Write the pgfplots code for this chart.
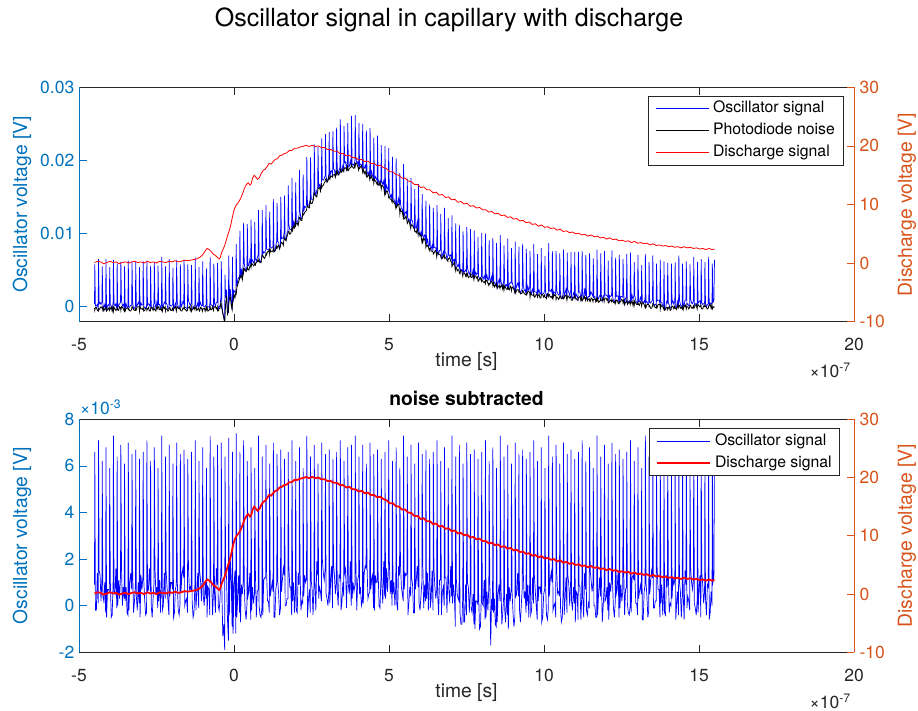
\documentclass[border=0pt]{standalone}
\usepackage{pgfplots}
\pgfplotsset{compat=1.18}
\usepackage{pgfplotstable}
\usepackage{fontspec}
\setmainfont{TeX Gyre Heros}
\definecolor{lblue}{rgb}{0,0.447,0.741}
\definecolor{rorange}{rgb}{0.85,0.325,0.098}
\definecolor{axgray}{rgb}{0.15,0.15,0.15}
\newcommand{\tickfont}{\fontsize{17.5pt}{21pt}\selectfont}
\newcommand{\labfont}{\fontsize{19.3pt}{23pt}\selectfont}
\newcommand{\legfont}{\fontsize{15.8pt}{19pt}\selectfont}

% t in units of 1e-7 s; O = oscillator (top), S = noise subtracted, N = photodiode noise; all in 1e-3 V
\pgfplotstableread{
t O S N
-4.50 0.4 0.9 -0.2
-4.49 5.8 6.6 -0.5
-4.47 0.1 -0.2 -0.1
-4.44 0.1 -0.2 -0.1
-4.41 0.3 1.4 -0.5
-4.38 -0.3 0.1 -0.6
-4.37 6.5 7.1 -0.3
-4.35 0.4 1.5 -0.4
-4.32 0.6 1.3 -0.2
-4.29 0.3 0.2 0.0
-4.26 0.6 1.2 -0.1
-4.25 5.5 6.2 -0.4
-4.23 0.4 0.4 0.0
-4.20 -0.3 0.2 -0.6
-4.17 0.3 1.0 -0.3
-4.14 -0.2 -0.3 -0.3
-4.13 6.5 6.8 0.0
-4.11 -0.6 -0.5 -0.6
-4.08 0.1 0.7 -0.4
-4.05 0.3 0.7 -0.2
-4.02 0.0 0.6 -0.5
-4.01 5.4 5.9 -0.2
-3.99 0.4 1.1 -0.3
-3.96 0.0 -0.5 0.0
-3.93 -0.5 -0.4 -0.6
-3.90 0.6 1.0 0.0
-3.89 6.4 7.3 -0.6
-3.87 0.4 0.6 -0.1
-3.84 0.1 0.5 -0.3
-3.81 0.4 1.6 -0.5
-3.78 -0.2 -0.1 -0.4
-3.77 6.0 6.4 -0.1
-3.75 -0.2 0.0 -0.4
-3.72 0.2 1.1 -0.5
-3.69 0.4 0.3 0.0
-3.66 0.6 1.3 -0.2
-3.65 6.1 6.9 -0.5
-3.63 0.9 1.7 0.0
-3.60 0.1 0.0 -0.1
-3.57 0.3 0.8 -0.3
-3.54 -0.2 0.3 -0.6
-3.53 5.5 6.1 -0.3
-3.51 -0.3 0.2 -0.6
-3.48 0.4 0.8 -0.2
-3.45 -0.1 -0.3 -0.2
-3.42 0.0 -0.4 -0.1
-3.41 6.3 7.0 -0.4
-3.39 -0.1 -0.2 -0.3
-3.36 0.0 1.0 -0.6
-3.33 0.2 1.4 -0.6
-3.30 0.2 0.7 -0.3
-3.29 6.2 6.5 0.0
-3.27 0.7 1.5 -0.1
-3.24 -0.3 -0.3 -0.4
-3.21 -0.2 0.2 -0.5
-3.18 0.1 0.9 -0.5
-3.17 6.2 6.7 -0.2
-3.15 0.0 0.4 -0.4
-3.12 0.2 -0.2 0.0
-3.09 0.6 1.0 0.0
-3.06 0.3 0.1 0.0
-3.05 5.4 6.3 -0.6
-3.03 0.0 -0.5 0.0
-3.00 0.5 1.3 -0.3
-2.97 0.2 0.7 -0.3
-2.94 0.3 1.2 -0.4
-2.93 6.2 6.6 -0.1
-2.91 0.1 1.1 -0.6
-2.88 -0.2 0.2 -0.5
-2.85 -0.1 -0.4 -0.2
-2.82 -0.1 -0.3 -0.2
-2.81 6.3 7.1 -0.5
-2.79 0.2 0.6 -0.3
-2.76 0.4 0.7 -0.1
-2.73 0.3 1.6 -0.6
-2.70 -0.1 0.6 -0.6
-2.69 5.6 6.2 -0.3
-2.67 0.1 0.0 -0.1
-2.64 -0.2 -0.5 -0.2
-2.61 -0.1 0.3 -0.5
-2.58 0.5 1.0 -0.1
-2.57 6.1 6.8 -0.4
-2.55 0.5 1.7 -0.4
-2.52 -0.2 0.5 -0.6
-2.49 0.6 0.8 0.0
-2.46 -0.1 -0.1 -0.3
-2.45 5.6 5.9 0.0
-2.43 0.3 0.2 0.0
-2.40 0.3 1.1 -0.4
-2.37 -0.2 -0.3 -0.3
-2.34 0.3 1.3 -0.5
-2.33 6.8 7.3 -0.2
-2.31 -0.4 -0.2 -0.6
-2.28 0.2 0.0 0.0
-2.25 0.6 1.4 -0.2
-2.22 0.4 0.3 0.0
-2.21 5.5 6.4 -0.6
-2.19 0.5 1.5 -0.3
-2.16 0.3 0.8 -0.3
-2.13 -0.3 0.2 -0.6
-2.10 -0.3 -0.4 -0.4
-2.09 6.5 6.9 -0.1
-2.07 0.3 0.4 -0.1
-2.04 0.1 1.0 -0.5
-2.01 0.1 1.0 -0.5
-1.98 0.3 0.7 -0.2
-1.97 5.3 6.1 -0.5
-1.95 -0.4 -0.5 -0.4
-1.92 0.0 -0.3 -0.1
-1.89 0.5 0.7 0.0
-1.86 0.0 0.9 -0.6
-1.85 6.4 7.0 -0.3
-1.83 0.7 1.1 0.0
-1.80 0.0 -0.2 -0.2
-1.77 -0.2 -0.4 -0.3
-1.74 0.2 0.1 -0.1
-1.73 5.8 6.5 -0.4
-1.71 -0.1 0.6 -0.6
-1.68 0.2 1.3 -0.6
-1.65 0.7 1.6 -0.2
-1.62 0.4 1.2 -0.3
-1.61 6.4 6.7 0.0
-1.59 -0.1 0.0 -0.3
-1.56 -0.1 0.2 -0.4
-1.53 -0.2 0.3 -0.6
-1.50 -0.4 -0.3 -0.5
-1.49 5.8 6.3 -0.2
-1.47 0.8 1.7 -0.1
-1.44 0.5 0.7 0.0
-1.41 0.1 0.8 -0.5
-1.38 0.5 0.6 0.0
-1.37 5.7 6.6 -0.6
-1.35 -0.1 0.2 -0.4
-1.32 -0.3 -0.5 -0.3
-1.29 0.1 -0.3 0.0
-1.26 0.2 1.0 -0.4
-1.25 6.7 7.1 -0.1
-1.23 0.2 -0.2 0.0
-1.20 -0.1 0.5 -0.5
-1.17 0.5 1.4 -0.3
-1.14 0.0 -0.1 -0.2
-1.13 5.4 6.2 -0.5
-1.11 0.2 1.5 -0.6
-1.08 0.6 1.1 -0.1
-1.05 0.1 0.2 -0.2
-1.02 0.2 1.3 -0.6
-1.01 6.2 6.8 -0.3
-0.99 0.1 0.4 -0.3
-0.96 0.0 0.0 -0.2
-0.93 0.0 1.0 -0.6
-0.90 0.3 0.3 -0.1
-0.89 5.2 5.9 -0.4
-0.87 -0.1 -0.5 -0.1
-0.84 0.0 0.8 -0.6
-0.81 0.0 0.7 -0.5
-0.78 -0.2 -0.4 -0.3
-0.77 6.8 7.3 0.0
-0.75 0.3 1.1 -0.4
-0.72 0.2 1.0 -0.4
-0.69 0.1 -0.4 0.0
-0.66 0.0 0.7 -0.5
-0.65 5.9 6.4 -0.2
-0.63 0.5 0.6 0.0
-0.60 0.1 -0.3 0.0
-0.57 0.6 1.6 -0.3
-0.54 0.6 0.9 0.0
-0.53 6.0 6.9 -0.6
-0.51 -0.4 0.0 -0.6
-0.48 -0.1 -0.2 -0.3
-0.45 0.2 0.3 -0.2
-0.42 1.4 1.8 0.6
-0.41 6.2 7.0 0.2
-0.39 0.2 0.5 -0.3
-0.36 -0.9 -1.3 -0.9
-0.33 -1.4 -0.8 -1.5
-0.30 -2.2 -1.9 -2.2
-0.29 4.4 6.4 -1.2
-0.27 1.2 1.6 0.4
-0.24 2.3 1.2 1.5
-0.21 -0.8 -0.6 -1.0
-0.18 -0.8 -1.5 -0.6
-0.17 7.0 7.2 0.3
-0.15 1.0 -0.4 1.0
-0.12 2.4 2.0 1.4
-0.09 0.8 1.0 0.2
-0.06 -0.4 -0.9 -0.4
-0.05 6.8 6.6 0.5
-0.03 0.6 -1.2 0.9
0.00 2.2 0.8 1.6
0.03 2.0 1.5 1.2
0.06 2.0 -1.2 2.0
0.07 8.6 7.4 1.6
0.09 2.8 -0.5 2.6
0.12 3.5 0.3 3.0
0.15 4.0 1.3 3.4
0.18 4.0 -0.3 3.8
0.19 10.4 6.6 4.1
0.21 4.0 -0.7 4.0
0.24 5.0 0.9 4.3
0.27 4.2 0.5 3.7
0.30 6.1 1.1 5.3
0.31 11.5 7.1 4.7
0.33 5.9 0.9 5.2
0.36 5.2 -0.2 5.0
0.39 4.9 -0.6 4.8
0.42 5.5 0.1 5.1
0.43 11.3 6.2 5.4
0.45 5.6 0.4 5.1
0.48 5.6 0.6 5.0
0.51 6.4 1.4 5.5
0.54 5.8 -0.6 5.7
0.55 11.9 6.8 5.4
0.57 6.1 -0.2 5.9
0.60 6.4 0.8 5.8
0.63 6.0 0.1 5.6
0.66 6.2 0.5 5.7
0.67 11.6 5.9 6.0
0.69 6.6 1.5 5.7
0.72 6.2 -0.5 6.1
0.75 6.7 0.6 6.1
0.78 7.1 0.7 6.5
0.79 13.2 7.3 6.2
0.81 6.6 0.0 6.3
0.84 6.2 -0.4 6.0
0.87 6.1 -0.5 6.0
0.90 7.1 -0.1 6.8
0.91 13.2 6.4 7.1
0.93 7.2 -0.4 7.0
0.96 7.5 1.1 6.7
0.99 7.4 1.2 6.6
1.02 7.7 1.2 7.0
1.03 13.9 6.9 7.3
1.05 7.9 1.5 7.1
1.08 7.8 0.2 7.5
1.11 7.8 0.2 7.5
1.14 7.9 -0.3 7.8
1.15 13.0 6.1 7.2
1.17 8.2 0.4 7.8
1.20 8.0 0.7 7.5
1.23 8.1 1.0 7.5
1.26 8.2 0.6 7.7
1.27 14.7 7.0 8.0
1.29 7.5 -0.5 7.5
1.32 7.6 -0.5 7.6
1.35 8.4 0.7 7.9
1.38 8.9 1.0 8.3
1.39 14.2 6.5 8.0
1.41 8.9 1.1 8.2
1.44 8.8 0.5 8.4
1.47 8.0 -0.4 7.9
1.50 8.5 -0.1 8.3
1.51 15.0 6.7 8.6
1.53 9.3 0.6 8.8
1.56 9.4 1.1 8.7
1.59 9.3 1.6 8.4
1.62 10.3 1.3 9.5
1.63 15.2 6.3 9.2
1.65 9.4 0.0 9.2
1.68 9.2 0.0 9.0
1.71 10.0 0.3 9.6
1.74 10.4 0.3 10.0
1.75 16.6 6.6 10.3
1.77 11.2 1.7 10.3
1.80 10.5 0.8 9.9
1.83 10.6 0.8 10.0
1.86 10.6 -0.4 10.5
1.87 17.6 7.1 10.8
1.89 10.7 0.2 10.4
1.92 11.6 1.0 11.0
1.95 10.9 -0.3 10.8
1.98 12.2 0.7 11.7
1.99 17.0 6.2 11.1
2.01 11.6 -0.2 11.4
2.04 11.5 -0.3 11.4
2.07 11.9 1.4 11.1
2.10 12.5 0.9 11.9
2.11 18.7 6.8 12.2
2.13 13.0 1.5 12.2
2.16 12.0 -0.2 11.8
2.19 12.1 0.2 11.8
2.22 13.1 0.1 12.8
2.23 18.1 5.9 12.5
2.25 13.0 0.4 12.6
2.28 13.7 1.3 12.9
2.31 13.6 1.0 13.0
2.34 13.9 1.2 13.2
2.35 20.5 7.3 13.5
2.37 13.8 -0.5 13.8
2.40 13.9 0.2 13.6
2.43 14.0 0.7 13.5
2.46 14.7 -0.3 14.6
2.47 20.4 6.4 14.3
2.49 14.8 1.1 14.1
2.52 14.6 0.7 14.1
2.55 14.6 -0.4 14.5
2.58 15.8 0.9 15.3
2.59 22.2 6.9 15.6
2.61 15.8 0.9 15.3
2.64 15.2 -0.2 15.2
2.67 15.9 1.9 15.0
2.70 16.4 1.3 15.8
2.71 21.9 6.1 16.1
2.73 16.4 0.3 16.2
2.76 16.7 0.8 16.3
2.79 16.2 0.6 15.8
2.82 17.1 0.2 16.9
2.83 23.0 7.0 16.3
2.85 17.4 2.0 16.5
2.88 17.3 1.4 16.6
2.91 17.5 1.1 16.9
2.94 17.9 1.6 17.1
2.95 23.6 6.5 17.4
2.97 17.8 0.5 17.5
3.00 17.2 0.3 17.0
3.03 17.3 0.0 17.2
3.06 18.2 0.6 17.8
3.07 23.9 6.7 17.5
3.09 17.6 0.1 17.4
3.12 18.5 1.1 17.9
3.15 18.6 1.7 17.8
3.18 17.8 -0.1 17.7
3.19 24.0 6.3 18.0
3.21 18.8 1.8 18.0
3.24 18.7 1.3 18.1
3.27 18.0 0.5 17.7
3.30 19.0 1.0 18.5
3.31 24.5 6.6 18.2
3.33 18.9 0.7 18.5
3.36 18.1 0.0 18.0
3.39 18.7 1.3 18.1
3.42 19.1 1.2 18.5
3.43 25.6 7.1 18.8
3.45 18.4 -0.2 18.4
3.48 18.6 0.1 18.4
3.51 19.3 1.0 18.8
3.54 18.8 0.4 18.5
3.55 24.7 6.2 18.8
3.57 19.7 1.4 19.0
3.60 19.8 1.6 19.0
3.63 18.8 -0.1 18.7
3.66 19.9 1.5 19.2
3.67 25.1 6.8 18.6
3.69 19.1 0.9 18.6
3.72 19.2 0.5 18.9
3.75 19.9 1.9 19.0
3.78 19.2 0.0 19.1
3.79 26.1 6.9 19.4
3.81 19.4 0.3 19.2
3.84 19.5 1.0 19.0
3.87 19.3 0.6 18.9
3.90 20.0 0.9 19.5
3.91 26.2 7.3 19.2
3.93 20.5 2.0 19.6
3.96 19.6 -0.2 19.6
3.99 19.8 1.1 19.2
4.02 19.3 1.3 18.7
4.03 25.1 6.4 19.0
4.05 19.2 0.5 18.9
4.08 19.5 0.8 19.1
4.11 19.4 0.0 19.3
4.14 18.9 0.2 18.7
4.15 25.0 6.9 18.4
4.17 19.0 0.1 18.8
4.20 18.9 1.4 18.2
4.23 19.3 1.7 18.5
4.26 18.8 1.6 18.0
4.27 24.1 6.1 18.3
4.29 18.5 1.8 17.7
4.32 18.1 0.3 17.9
4.35 18.4 0.5 18.1
4.38 17.8 0.6 17.4
4.39 24.4 7.0 17.7
4.41 18.0 0.7 17.6
4.44 18.5 1.1 17.9
4.47 17.9 1.3 17.3
4.50 17.6 -0.1 17.5
4.51 23.1 6.5 16.9
4.53 17.4 -0.2 17.4
4.56 17.8 1.3 17.2
4.59 17.5 1.0 17.0
4.62 17.2 1.0 16.7
4.63 23.4 6.7 17.0
4.65 17.4 1.4 16.7
4.68 16.7 0.0 16.6
4.71 17.2 -0.1 17.1
4.74 17.0 1.2 16.4
4.75 22.1 6.3 16.1
4.77 17.1 0.9 16.6
4.80 16.7 0.1 16.5
4.83 17.2 1.9 16.3
4.86 15.7 0.4 15.4
4.87 22.0 6.6 15.7
4.89 15.6 0.3 15.4
4.92 16.6 1.6 15.8
4.95 16.2 0.6 15.8
4.98 15.9 1.5 15.2
4.99 21.7 7.1 14.9
5.01 15.9 2.0 15.0
5.04 15.0 0.5 14.7
5.07 15.3 1.1 14.7
5.10 14.4 0.0 14.3
5.11 20.5 6.2 14.6
5.13 14.8 0.5 14.5
5.16 14.7 1.0 14.2
5.19 14.2 0.0 14.1
5.22 14.0 0.9 13.5
5.23 20.3 6.8 13.8
5.25 13.8 0.1 13.6
5.28 14.0 -0.2 14.0
5.31 14.8 1.7 14.0
5.34 13.9 1.3 13.3
5.35 18.3 5.9 12.7
5.37 14.1 1.8 13.3
5.40 13.4 0.8 13.0
5.43 13.3 0.5 13.0
5.46 12.4 0.2 12.2
5.47 19.5 7.3 12.5
5.49 12.4 0.7 12.0
5.52 12.8 1.4 12.1
5.55 13.0 1.3 12.4
5.58 12.5 1.4 11.7
5.59 17.5 6.4 11.4
5.61 11.6 -0.4 11.6
5.64 12.0 0.1 11.8
5.67 11.8 0.8 11.3
5.70 11.1 0.4 10.7
5.71 17.6 6.9 11.0
5.73 11.9 1.2 11.2
5.76 11.7 0.9 11.1
5.79 10.9 -0.3 10.8
5.82 10.7 -0.3 10.6
5.83 16.1 6.1 10.3
5.85 10.8 0.7 10.3
5.88 10.7 1.1 10.1
5.91 11.6 1.7 10.7
5.94 10.3 0.8 9.8
5.95 16.8 7.0 10.1
5.97 10.3 0.1 10.1
6.00 9.8 -0.2 9.7
6.03 10.2 0.4 9.8
6.06 9.5 1.0 8.9
6.07 15.4 6.5 9.2
6.09 9.7 1.8 8.8
6.12 9.6 -0.1 9.4
6.15 9.8 0.9 9.2
6.18 9.0 0.2 8.7
6.19 14.5 6.7 8.1
6.21 8.7 0.3 8.4
6.24 9.2 1.4 8.4
6.27 8.2 -0.2 8.1
6.30 8.4 1.3 7.7
6.31 14.0 6.3 8.0
6.33 8.2 -0.1 8.0
6.36 7.9 0.3 7.6
6.39 8.4 1.5 7.6
6.42 7.6 -0.2 7.5
6.43 13.5 6.6 7.2
6.45 8.1 1.6 7.3
6.48 8.1 0.8 7.6
6.51 8.0 0.3 7.7
6.54 7.3 0.7 6.8
6.55 13.9 7.1 7.1
6.57 7.8 0.5 7.4
6.60 7.2 -0.4 7.2
6.63 7.7 1.1 7.1
6.66 7.7 1.1 7.1
6.67 12.7 6.2 6.8
6.69 6.6 -0.4 6.6
6.72 7.0 0.6 6.6
6.75 7.5 0.8 7.0
6.78 6.9 0.0 6.7
6.79 13.5 6.8 7.0
6.81 7.4 1.2 6.7
6.84 7.3 1.2 6.6
6.87 6.5 -0.3 6.4
6.90 7.0 1.4 6.2
6.91 12.1 5.9 6.5
6.93 7.1 0.7 6.6
6.96 6.9 0.1 6.7
6.99 7.1 1.7 6.2
7.02 6.5 0.4 6.1
7.03 12.5 7.3 5.5
7.05 5.9 0.1 5.7
7.08 6.4 0.9 5.8
7.11 6.5 0.4 6.1
7.14 5.1 -0.9 5.0
7.15 11.4 6.4 5.3
7.17 6.3 1.2 5.4
7.20 5.5 0.5 4.9
7.23 5.7 0.3 5.1
7.26 5.4 0.2 4.9
7.27 11.2 6.9 4.6
7.29 4.8 -0.3 4.5
7.32 5.1 -0.8 5.0
7.35 5.0 -0.8 4.9
7.38 4.8 0.4 4.2
7.39 10.3 6.1 4.5
7.41 4.7 -0.7 4.5
7.44 4.8 -0.7 4.6
7.47 5.0 0.9 4.2
7.50 4.8 -0.4 4.5
7.51 10.9 7.0 4.2
7.53 5.3 1.0 4.5
7.56 4.8 0.8 4.0
7.59 4.4 -0.3 4.1
7.62 4.8 0.7 4.1
7.63 10.6 6.5 4.4
7.65 4.4 -0.1 4.0
7.68 4.3 -0.3 4.0
7.71 5.0 0.5 4.4
7.74 3.8 -0.8 3.7
7.75 10.4 6.7 4.0
7.77 4.2 -1.0 4.2
7.80 4.7 0.2 4.2
7.83 4.4 0.2 3.9
7.86 4.6 0.1 4.1
7.87 9.5 6.3 3.5
7.89 4.2 0.6 3.5
7.92 3.8 -1.0 3.8
7.95 4.0 -0.9 3.9
7.98 4.1 0.5 3.5
7.99 10.1 6.6 3.8
8.01 4.1 0.1 3.6
8.04 3.8 0.0 3.4
8.07 4.2 1.1 3.3
8.10 3.7 -0.6 3.5
8.11 10.0 7.1 3.2
8.13 3.8 -0.5 3.6
8.16 4.3 0.6 3.6
8.19 3.6 -0.2 3.2
8.22 3.7 0.8 2.9
8.23 9.1 6.2 3.2
8.25 4.0 1.2 3.1
8.28 3.3 -1.7 3.3
8.31 4.1 0.3 3.5
8.34 3.6 -0.2 3.2
8.35 9.4 6.8 2.9
8.37 3.6 -0.3 3.3
8.40 3.3 0.3 2.7
8.43 3.1 -0.8 3.0
8.46 2.9 -0.9 2.8
8.47 8.7 5.9 3.1
8.49 2.7 -0.7 2.5
8.52 3.3 0.5 2.7
8.55 3.7 0.9 2.9
8.58 3.0 0.2 2.5
8.59 9.8 7.3 2.8
8.61 3.5 1.0 2.7
8.64 3.1 -0.8 3.0
8.67 2.7 -0.3 2.4
8.70 3.5 0.4 2.9
8.71 8.4 6.4 2.3
8.73 3.2 -0.1 2.8
8.76 2.8 -0.7 2.6
8.79 3.0 0.5 2.4
8.82 2.7 -0.4 2.4
8.83 9.3 6.9 2.7
8.85 2.4 -1.0 2.4
8.88 3.1 0.8 2.3
8.91 3.3 0.2 2.8
8.94 3.2 0.7 2.5
8.95 8.0 6.1 2.2
8.97 3.4 0.6 2.7
9.00 2.9 -0.3 2.6
9.03 2.5 -0.9 2.4
9.06 2.0 -0.5 1.9
9.07 8.9 7.0 2.2
9.09 2.4 0.4 1.9
9.12 2.8 0.5 2.3
9.15 3.2 1.4 2.3
9.18 2.8 0.4 2.3
9.19 8.2 6.5 2.0
9.21 2.3 -0.2 2.1
9.24 1.8 -0.7 1.8
9.27 2.2 0.1 1.8
9.30 2.5 0.8 1.9
9.31 8.6 6.7 2.2
9.33 3.0 1.5 2.1
9.36 2.2 0.3 1.8
9.39 2.3 0.6 1.7
9.42 1.8 -0.3 1.6
9.43 7.9 6.3 1.9
9.45 2.0 0.0 1.7
9.48 2.8 0.9 2.1
9.51 2.2 -0.5 2.1
9.54 2.7 1.1 1.9
9.55 7.6 6.6 1.3
9.57 2.1 -0.4 1.9
9.60 1.8 -0.2 1.6
9.63 2.4 1.2 1.6
9.66 1.9 0.1 1.5
9.67 8.6 7.1 1.8
9.69 2.1 1.3 1.3
9.72 2.0 0.6 1.4
9.75 2.0 0.0 1.7
9.78 1.7 -0.6 1.6
9.79 7.2 6.2 1.3
9.81 1.9 0.2 1.5
9.84 2.3 0.8 1.7
9.87 1.8 0.8 1.2
9.90 1.7 0.5 1.2
9.91 8.0 6.8 1.5
9.93 1.7 -0.7 1.7
9.96 1.7 -0.5 1.6
9.99 1.8 0.5 1.3
10.02 2.2 0.7 1.6
10.03 6.9 5.9 1.3
10.05 2.0 0.9 1.3
10.08 1.3 -0.4 1.1
10.11 1.8 -0.6 1.7
10.14 1.7 -0.1 1.4
10.15 8.7 7.3 1.7
10.17 2.2 0.4 1.7
10.20 2.1 1.1 1.3
10.23 2.3 1.4 1.4
10.26 1.9 1.0 1.2
10.27 7.6 6.4 1.5
10.29 1.3 -0.2 1.1
10.32 2.0 0.0 1.7
10.35 1.9 0.1 1.5
10.38 1.7 -0.5 1.6
10.39 7.6 6.9 1.0
10.41 2.2 1.5 1.3
10.44 1.8 0.5 1.3
10.47 1.6 0.6 1.0
10.50 1.7 0.4 1.2
10.51 7.3 6.1 1.5
10.53 1.8 0.0 1.5
10.56 1.1 -0.7 1.1
10.59 1.2 -0.5 1.1
10.62 2.0 0.8 1.4
10.63 7.8 7.0 1.1
10.65 1.4 -0.4 1.2
10.68 1.9 0.3 1.5
10.71 2.4 1.2 1.6
10.74 1.1 -0.3 0.9
10.75 7.4 6.5 1.2
10.77 2.3 1.3 1.5
10.80 2.0 0.9 1.3
10.83 1.5 0.0 1.2
10.86 2.2 1.1 1.4
10.87 7.5 6.7 1.1
10.89 1.3 0.2 0.9
10.92 1.1 -0.2 0.9
10.95 1.9 0.8 1.3
10.98 1.6 0.1 1.2
10.99 7.5 6.3 1.5
11.01 1.2 -0.7 1.2
11.04 1.7 0.6 1.1
11.07 1.4 0.5 0.9
11.10 1.0 -0.6 0.9
11.11 7.5 6.6 1.2
11.13 2.0 0.9 1.3
11.16 2.0 0.8 1.4
11.19 1.0 -0.6 0.9
11.22 1.9 0.5 1.4
11.23 7.6 7.1 0.8
11.25 1.5 0.4 1.0
11.28 1.2 -0.5 1.1
11.31 2.3 1.4 1.4
11.34 1.5 0.7 0.9
11.35 7.1 6.2 1.2
11.37 1.5 -0.2 1.3
11.40 1.0 -0.4 0.8
11.43 1.4 0.1 1.0
11.46 1.4 -0.1 1.1
11.47 7.3 6.8 0.8
11.49 1.6 1.5 0.7
11.52 2.0 1.1 1.2
11.55 1.7 0.6 1.1
11.58 1.4 1.0 0.7
11.59 6.6 5.9 1.0
11.61 1.3 0.0 1.0
11.64 1.4 0.0 1.1
11.67 0.8 -0.5 0.7
11.70 1.2 -0.5 1.1
11.71 7.8 7.3 0.8
11.73 1.3 -0.4 1.1
11.76 1.1 0.5 0.6
11.79 1.5 1.2 0.7
11.82 1.4 0.4 0.9
11.83 7.3 6.4 1.2
11.85 1.6 1.3 0.8
11.88 0.8 -0.7 0.8
11.91 1.5 0.0 1.2
11.94 1.3 0.8 0.7
11.95 7.6 6.9 1.0
11.97 1.6 0.2 1.2
12.00 1.6 0.3 1.2
12.03 1.5 0.8 0.9
12.06 1.3 -0.2 1.1
12.07 6.3 6.1 0.5
12.09 0.5 -0.6 0.5
12.12 1.5 1.0 0.8
12.15 1.4 0.6 0.9
12.18 1.5 1.2 0.7
12.19 7.7 7.0 1.0
12.21 1.5 1.0 0.8
12.24 0.8 -0.1 0.6
12.27 0.6 -0.5 0.5
12.30 1.2 0.2 0.8
12.31 6.7 6.5 0.5
12.33 1.4 0.5 0.9
12.36 1.5 0.7 0.9
12.39 1.4 1.5 0.5
12.42 0.5 -0.5 0.4
12.43 7.1 6.7 0.7
12.45 0.8 -0.1 0.6
12.48 1.4 0.9 0.8
12.51 1.4 0.2 1.0
12.54 1.3 0.6 0.8
12.55 6.5 6.3 0.5
12.57 1.8 1.6 0.9
12.60 0.4 -0.4 0.3
12.63 1.2 0.7 0.6
12.66 1.2 0.8 0.6
12.67 7.2 6.6 0.9
12.69 0.6 0.1 0.3
12.72 0.7 -0.3 0.5
12.75 0.8 -0.4 0.7
12.78 0.6 0.0 0.3
12.79 7.4 7.1 0.6
12.81 0.7 -0.3 0.5
12.84 1.6 1.2 0.8
12.87 1.0 1.3 0.2
12.90 1.5 1.1 0.8
12.91 6.1 6.2 0.2
12.93 1.5 1.4 0.7
12.96 0.8 0.1 0.5
12.99 0.6 0.1 0.3
13.02 0.4 -0.4 0.3
13.03 7.1 6.8 0.6
13.05 0.7 0.3 0.3
13.08 0.7 0.6 0.2
13.11 1.3 0.9 0.7
13.14 0.9 0.5 0.4
13.15 5.7 5.9 0.1
13.17 0.6 -0.6 0.6
13.20 0.5 -0.6 0.5
13.23 0.8 0.6 0.3
13.26 0.5 0.9 -0.1
13.27 7.2 7.3 0.2
13.29 0.6 1.0 -0.1
13.32 0.7 0.4 0.3
13.35 0.4 -0.5 0.3
13.38 0.5 -0.2 0.3
13.39 6.1 6.4 0.0
13.41 0.6 0.5 0.1
13.44 0.5 1.0 -0.2
13.47 0.7 1.5 -0.2
13.50 0.9 1.2 0.1
13.51 7.0 6.9 0.4
13.53 0.5 -0.1 0.3
13.56 0.2 -0.1 0.0
13.59 0.3 0.2 -0.1
13.62 0.2 0.2 -0.2
13.63 5.9 6.1 0.1
13.65 0.8 1.6 -0.1
13.68 0.9 0.7 0.3
13.71 0.9 0.7 0.3
13.74 0.4 -0.5 0.3
13.75 6.4 7.0 -0.3
13.77 0.6 0.1 0.3
13.80 0.6 0.9 0.0
13.83 0.1 -0.4 0.0
13.86 0.2 0.6 -0.3
13.87 6.2 6.5 0.0
13.89 -0.3 -0.3 -0.5
13.92 -0.3 -0.4 -0.4
13.95 0.7 1.3 -0.1
13.98 0.5 0.8 -0.1
13.99 6.0 6.7 -0.4
14.01 0.6 1.4 -0.2
14.04 0.2 -0.3 0.0
14.07 -0.2 0.1 -0.5
14.10 -0.1 0.0 -0.4
14.11 5.9 6.3 -0.1
14.13 0.5 0.3 0.1
14.16 0.8 1.2 0.0
14.19 0.3 0.9 -0.3
14.22 0.8 1.1 0.1
14.23 6.1 6.6 -0.2
14.25 -0.2 -0.6 -0.2
14.28 -0.1 0.1 -0.4
14.31 0.7 0.6 0.2
14.34 0.0 -0.4 -0.1
14.35 7.0 7.1 0.2
14.37 0.9 1.0 0.2
14.40 0.3 0.6 -0.2
14.43 0.0 -0.5 -0.1
14.46 0.2 0.5 -0.3
14.47 5.9 6.2 0.0
14.49 0.1 0.5 -0.4
14.52 0.2 -0.6 0.2
14.55 0.9 1.5 0.0
14.58 0.9 0.9 0.3
14.59 6.2 6.8 -0.3
14.61 0.2 -0.1 0.0
14.64 0.4 0.4 0.0
14.67 0.1 0.2 -0.3
14.70 0.1 -0.2 -0.1
14.71 5.8 5.9 0.2
14.73 1.1 1.6 0.2
14.76 0.5 1.0 -0.2
14.79 0.4 0.7 -0.2
14.82 0.9 1.2 0.1
14.83 6.8 7.3 -0.2
14.85 0.2 0.1 -0.1
14.88 0.4 -0.1 0.2
14.91 0.4 -0.4 0.3
14.94 0.1 0.2 -0.3
14.95 6.1 6.4 0.0
14.97 0.5 -0.3 0.3
15.00 0.7 0.7 0.1
15.03 0.8 1.3 0.0
15.06 0.3 -0.5 0.2
15.07 6.5 6.9 -0.1
15.09 0.5 1.4 -0.3
15.12 0.3 0.9 -0.3
15.15 0.4 0.1 0.1
15.18 0.5 0.6 0.0
15.19 6.1 6.1 0.3
15.21 0.4 0.3 0.0
15.24 0.0 -0.4 -0.1
15.27 0.3 0.9 -0.3
15.30 0.4 0.8 -0.2
15.31 6.8 7.0 0.1
15.33 0.2 -0.6 0.2
15.36 0.5 -0.3 0.3
15.39 0.3 0.6 -0.2
15.42 0.6 0.0 0.3
15.43 5.9 6.5 -0.3
15.45 0.6 1.0 -0.1
15.48 0.8 1.2 0.0
15.50 6.4 6.6 -0.1
}\osc

% discharge signal, V
\pgfplotstableread{
t V
-4.50 0.1
-4.40 0.3
-4.30 0.2
-4.20 -0.1
-4.10 0.1
-4.00 0.3
-3.90 0.1
-3.80 0.2
-3.70 -0.1
-3.60 0.1
-3.50 0.2
-3.40 0.0
-3.30 0.2
-3.20 0.3
-3.10 0.1
-3.00 0.2
-2.90 0.0
-2.80 0.3
-2.70 0.1
-2.60 0.2
-2.50 0.0
-2.40 0.3
-2.30 0.2
-2.20 0.1
-2.10 0.3
-2.00 0.2
-1.90 0.4
-1.80 0.2
-1.70 0.3
-1.60 0.5
-1.50 0.4
-1.40 0.5
-1.30 0.6
-1.20 0.7
-1.10 1.0
-1.03 1.3
-0.95 1.9
-0.90 2.3
-0.86 2.5
-0.80 2.3
-0.74 2.0
-0.68 1.6
-0.60 1.3
-0.54 1.0
-0.48 0.7
-0.44 1.0
-0.40 1.8
-0.35 2.4
-0.30 3.0
-0.25 3.9
-0.20 4.8
-0.15 5.6
-0.10 6.6
-0.05 7.9
0.00 9.0
0.05 9.7
0.10 10.1
0.16 10.5
0.22 11.1
0.28 11.9
0.34 12.8
0.40 13.4
0.46 13.7
0.52 13.3
0.56 13.6
0.60 14.5
0.65 15.0
0.70 14.7
0.76 14.3
0.82 14.6
0.88 15.3
0.94 15.8
1.00 16.0
1.06 16.4
1.13 17.0
1.20 16.9
1.26 17.3
1.33 17.7
1.40 17.8
1.47 18.3
1.54 18.4
1.62 18.7
1.70 18.8
1.78 19.2
1.86 19.2
1.95 19.6
2.04 19.6
2.13 19.8
2.22 19.9
2.32 20.1
2.42 19.9
2.52 20.1
2.62 19.9
2.72 20.0
2.82 19.7
2.92 19.7
3.02 19.4
3.12 19.4
3.22 19.1
3.32 19.1
3.42 18.7
3.52 18.7
3.62 18.3
3.72 18.4
3.82 18.0
3.92 18.0
4.02 17.6
4.12 17.7
4.22 17.3
4.32 17.4
4.42 17.0
4.52 17.0
4.62 16.6
4.72 16.7
4.82 16.3
4.92 16.1
5.02 15.6
5.12 15.6
5.22 15.1
5.32 15.0
5.42 14.5
5.52 14.5
5.62 14.0
5.72 13.9
5.82 13.4
5.92 13.4
6.02 12.9
6.12 13.0
6.22 12.5
6.32 12.5
6.42 12.0
6.52 12.1
6.62 11.6
6.72 11.7
6.82 11.2
6.92 11.3
7.02 10.8
7.12 10.9
7.22 10.4
7.32 10.5
7.42 10.1
7.52 10.2
7.62 9.7
7.72 9.8
7.82 9.4
7.92 9.5
8.02 9.1
8.12 9.1
8.22 8.7
8.32 8.8
8.42 8.4
8.52 8.5
8.62 8.1
8.72 8.2
8.82 7.8
8.92 7.9
9.02 7.5
9.12 7.6
9.22 7.2
9.32 7.3
9.42 6.9
9.52 7.0
9.62 6.6
9.72 6.7
9.82 6.3
9.92 6.5
10.02 6.1
10.12 6.2
10.22 5.9
10.32 6.0
10.42 5.6
10.52 5.8
10.62 5.4
10.72 5.5
10.82 5.2
10.92 5.3
11.02 5.0
11.12 5.1
11.22 4.8
11.32 4.9
11.42 4.6
11.52 4.8
11.62 4.5
11.72 4.6
11.82 4.3
11.92 4.4
12.02 4.1
12.12 4.3
12.22 4.0
12.32 4.1
12.42 3.8
12.52 3.9
12.62 3.7
12.72 3.8
12.82 3.5
12.92 3.7
13.02 3.4
13.12 3.5
13.22 3.3
13.32 3.4
13.42 3.1
13.52 3.3
13.62 3.0
13.72 3.1
13.82 2.9
13.92 3.0
14.02 2.8
14.12 2.9
14.22 2.7
14.32 2.8
14.42 2.6
14.52 2.8
14.62 2.6
14.72 2.7
14.82 2.5
14.92 2.6
15.02 2.4
15.12 2.5
15.22 2.3
15.32 2.5
15.42 2.3
15.50 2.4
}\dis

\pgfplotsset{
  base/.style={
    scale only axis, width=775pt,
    xmin=-5, xmax=20,
    tick align=inside,
    major tick length=7.5pt,
    tick label style={font=\tickfont},
    legend image code/.code={\draw[##1] (0pt,0pt) -- (53pt,0pt);},
    legend style={font=\legfont, draw=axgray, line width=0.6pt, fill=white,
      inner xsep=7pt, inner ysep=4pt, row sep=5pt, column sep=3pt,
      cells={anchor=west}, nodes={inner sep=1pt, text height=11.5pt, text depth=3.5pt}},
  },
  leftax/.style={base,
    axis x line*=box, axis y line*=left,
    xtick={-5,0,5,10,15,20}, xticklabels={-5,0,5,10,15,20},
    x axis line style={axgray, line width=0.6pt},
    y axis line style={lblue, line width=0.6pt},
    xtick style={axgray, line width=0.6pt},
    ytick style={lblue, line width=0.6pt},
    xticklabel style={anchor=base, yshift=-29.3pt, text=axgray},
    yticklabel style={text=lblue, xshift=-1.2pt},
    every axis y label/.style={at={(axis description cs:-0.0735,0.5)}, rotate=90, anchor=center, font=\labfont, text=lblue},
    ylabel={Oscillator voltage [V]},
    xlabel={time [s]},
  },
  rightax/.style={base,
    axis x line=none, axis y line*=right,
    xtick=\empty,
    ymin=-10, ymax=30, ytick={-10,0,10,20,30}, yticklabels={-10,0,10,20,30},
    y axis line style={rorange, line width=0.6pt},
    ytick style={rorange, line width=0.6pt},
    yticklabel style={text=rorange, xshift=2pt},
    every axis y label/.style={at={(axis description cs:1.0684,0.5)}, rotate=90, anchor=center, font=\labfont, text=rorange},
    ylabel={Discharge voltage [V]},
  },
}

\begin{document}
\begin{tikzpicture}
% ---------- top: raw signals ----------
\begin{axis}[leftax, at={(79pt,389.3pt)}, anchor=south west, height=234.4pt,
  ymin=-2.05, ymax=30, ytick={0,10,20,30}, yticklabels={0,0.01,0.02,0.03},
  every axis x label/.style={at={(axis description cs:0.5,-0.1707)}, anchor=center, font=\labfont, text=axgray},
  legend style={at={(axis description cs:0.986,0.963)}, anchor=north east}]
\addplot[draw=blue, line width=0.7pt, mark=none] table[x=t, y=O] {\osc};
\addlegendentry{Oscillator signal}
\addplot[draw=black, line width=0.8pt, mark=none] table[x=t, y=N] {\osc};
\addlegendentry{Photodiode noise}
\addlegendimage{draw=red, line width=0.8pt}
\addlegendentry{Discharge signal}
\end{axis}
\begin{axis}[rightax, at={(79pt,389.3pt)}, anchor=south west, height=234.4pt]
\addplot[draw=red, line width=0.8pt, mark=none] table[x=t, y=V] {\dis};
\end{axis}

% ---------- bottom: noise subtracted ----------
\begin{axis}[leftax, at={(79pt,58.7pt)}, anchor=south west, height=233pt,
  ymin=-2, ymax=8, ytick={-2,0,2,4,6,8}, yticklabels={-2,0,2,4,6,8},
  every axis x label/.style={at={(axis description cs:0.5,-0.1717)}, anchor=center, font=\labfont, text=axgray},
  title={noise subtracted},
  title style={font=\bfseries\labfont, at={(axis description cs:0.5,1)}, anchor=base, yshift=8pt, inner sep=0pt},
  legend style={at={(axis description cs:0.982,0.961)}, anchor=north east}]
\addplot[draw=blue, line width=0.7pt, mark=none] table[x=t, y=S] {\osc};
\addlegendentry{Oscillator signal}
\addlegendimage{draw=red, line width=1.8pt}
\addlegendentry{Discharge signal}
\end{axis}
\begin{axis}[rightax, at={(79pt,58.7pt)}, anchor=south west, height=233pt]
\addplot[draw=red, line width=1.8pt, mark=none] table[x=t, y=V] {\dis};
\end{axis}

% ---------- annotations ----------
\node[font=\fontsize{25pt}{29pt}\selectfont, anchor=base] at (449pt,684pt) {Oscillator signal in capillary with discharge};
\node[font=\tickfont, text=axgray, anchor=base east, inner sep=0pt] at (851pt,333pt) {×10\textsuperscript{-7}};
\node[font=\tickfont, text=axgray, anchor=base east, inner sep=0pt] at (851pt,2.6pt) {×10\textsuperscript{-7}};
\node[font=\tickfont, text=lblue, anchor=base west, inner sep=0pt] at (80pt,296.5pt) {×10\textsuperscript{-3}};

\pgfresetboundingbox
\useasboundingbox (0pt,0pt) rectangle (918pt,711pt);
\end{tikzpicture}
\end{document}
